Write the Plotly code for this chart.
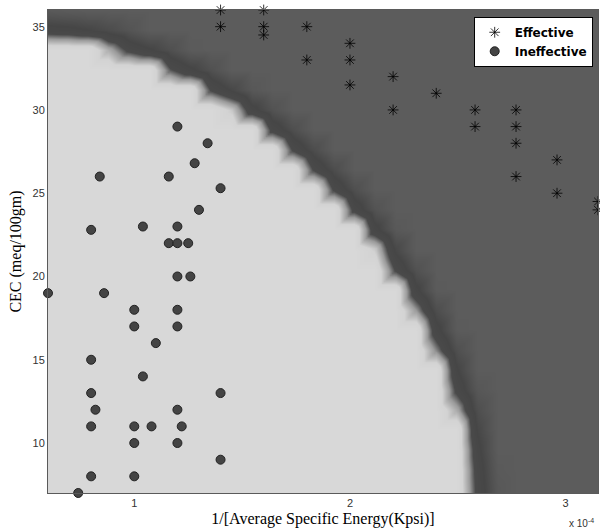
import numpy as np
import plotly.graph_objects as go

# ---- data (x in units of 1e-4 Kpsi^-1) ----
eff_x = [1.4, 1.4, 1.6, 1.6, 1.6, 1.8, 1.8, 2.0, 2.0, 2.0, 2.2, 2.2, 2.4,
         2.58, 2.58, 2.77, 2.77, 2.77, 2.77, 2.96, 2.96, 3.15, 3.15]
eff_y = [36, 35, 36, 35, 34.5, 35, 33, 34, 33, 31.5, 32, 30, 31,
         30, 29, 30, 29, 28, 26, 27, 25, 24.5, 24.0]

ineff_x = [1.2, 1.34, 1.28, 0.84, 1.16, 1.4, 1.3, 0.8, 1.04, 1.2, 1.16, 1.2, 1.25,
           1.2, 1.26, 0.6, 0.86, 1.0, 1.2, 1.0, 1.2, 1.1, 0.8, 1.04, 0.8, 1.4,
           0.82, 1.2, 0.8, 1.0, 1.08, 1.22, 1.0, 1.2, 1.4, 0.8, 1.0, 0.74]
ineff_y = [29, 28, 26.8, 26, 26, 25.3, 24, 22.8, 23, 23, 22, 22, 22,
           20, 20, 19, 19, 18, 18, 17, 17, 16, 15, 14, 13, 13,
           12, 12, 11, 11, 11, 11, 10, 10, 9, 8, 8, 7]

x_ticks = [1, 2, 3]
y_ticks = [10, 15, 20, 25, 30, 35]

# classifier decision boundary (superellipse) parameters
bx0, by0, ba, bb, bp = 0.6, 7.0, 1.975, 27.4, 1.7

# coarse classifier grid (as in the original, shaded by triangle interpolation)
sx, sy = 0.095, 1.2
cx = np.arange(0.5, 3.3, sx)
cy = np.arange(6.0, 37.5, sy)
CX, CY = np.meshgrid(cx, cy)
R = (np.abs(CX - bx0) / ba) ** bp + (np.abs(CY - by0) / bb) ** bp
Zc = np.where(R < 1.0, np.clip((R - 1.0) / 0.03, -1, 0), np.clip((R - 1.0) / 0.11, 0, 1))

# fine grid with per-triangle linear (Gouraud-like) interpolation
fx = np.linspace(0.6, 3.15, 276)
fy = np.linspace(7.0, 36.0, 242)
ix = np.clip(((fx - cx[0]) / sx).astype(int), 0, len(cx) - 2)
iy = np.clip(((fy - cy[0]) / sy).astype(int), 0, len(cy) - 2)
u = (fx - cx[ix]) / sx
v = (fy - cy[iy]) / sy
IX, IY = np.meshgrid(ix, iy)
U, V = np.meshgrid(u, v)
z00 = Zc[IY, IX]
z10 = Zc[IY, IX + 1]
z01 = Zc[IY + 1, IX]
z11 = Zc[IY + 1, IX + 1]
upper = V >= U
Zf = np.where(upper,
              z00 + U * (z11 - z01) + V * (z01 - z00),
              z00 + U * (z10 - z00) + V * (z11 - z10))

fig = go.Figure()
fig.add_trace(go.Heatmap(
    x=fx, y=fy, z=Zf, zmin=-1, zmax=1, zsmooth='best', showscale=False,
    hoverinfo='skip',
    colorscale=[[0.0, '#d8d8d8'], [0.15, '#d3d3d3'], [0.35, '#9a9a9a'],
                [0.5, '#4a4a4a'], [0.7, '#464646'], [0.88, '#545454'], [1.0, '#5c5c5c']]))

fig.add_trace(go.Scatter(
    x=eff_x, y=eff_y, mode='markers', name='<b>Effective</b>', cliponaxis=False,
    marker=dict(symbol='asterisk-open', size=9, color='black',
                line=dict(color='black', width=0.8))))
fig.add_trace(go.Scatter(
    x=ineff_x, y=ineff_y, mode='markers', name='<b>Ineffective</b>', cliponaxis=False,
    marker=dict(symbol='circle', size=9, color='#444444',
                line=dict(color='#222222', width=1))))

axis_common = dict(showgrid=False, zeroline=False, showline=True, mirror=True,
                   linecolor='#5a5a5a', linewidth=1, ticks='',
                   tickfont=dict(family='Liberation Sans', size=11, color='#333333'))

fig.update_layout(
    width=600, height=531, margin=dict(l=48, r=2, t=10, b=38),
    paper_bgcolor='white', plot_bgcolor='#5c5c5c',
    showlegend=True,
    legend=dict(x=0.774, y=0.986, xanchor='left', yanchor='top',
                bgcolor='white', bordercolor='black', borderwidth=1,
                font=dict(family='DejaVu Sans', size=12, color='black'),
                tracegroupgap=0),
    xaxis=dict(range=[0.6, 3.15], tickvals=x_ticks, ticktext=[str(t) for t in x_ticks],
               title=dict(text='1/[Average Specific Energy(Kpsi)]', standoff=4,
                          font=dict(family='Liberation Serif', size=16, color='black')),
               **axis_common),
    yaxis=dict(range=[7, 36], tickvals=y_ticks,
               title=dict(text='CEC (meq/100gm)', standoff=6,
                          font=dict(family='Liberation Serif', size=16, color='black')),
               **axis_common),
)
fig.add_annotation(x=1.0, y=0, xref='paper', yref='paper', xanchor='right', yanchor='top',
                   yshift=-22, xshift=-2, showarrow=False,
                   text='x 10<sup>-4</sup>',
                   font=dict(family='Liberation Sans', size=10, color='#333333'))

fig.write_html('out.html')
